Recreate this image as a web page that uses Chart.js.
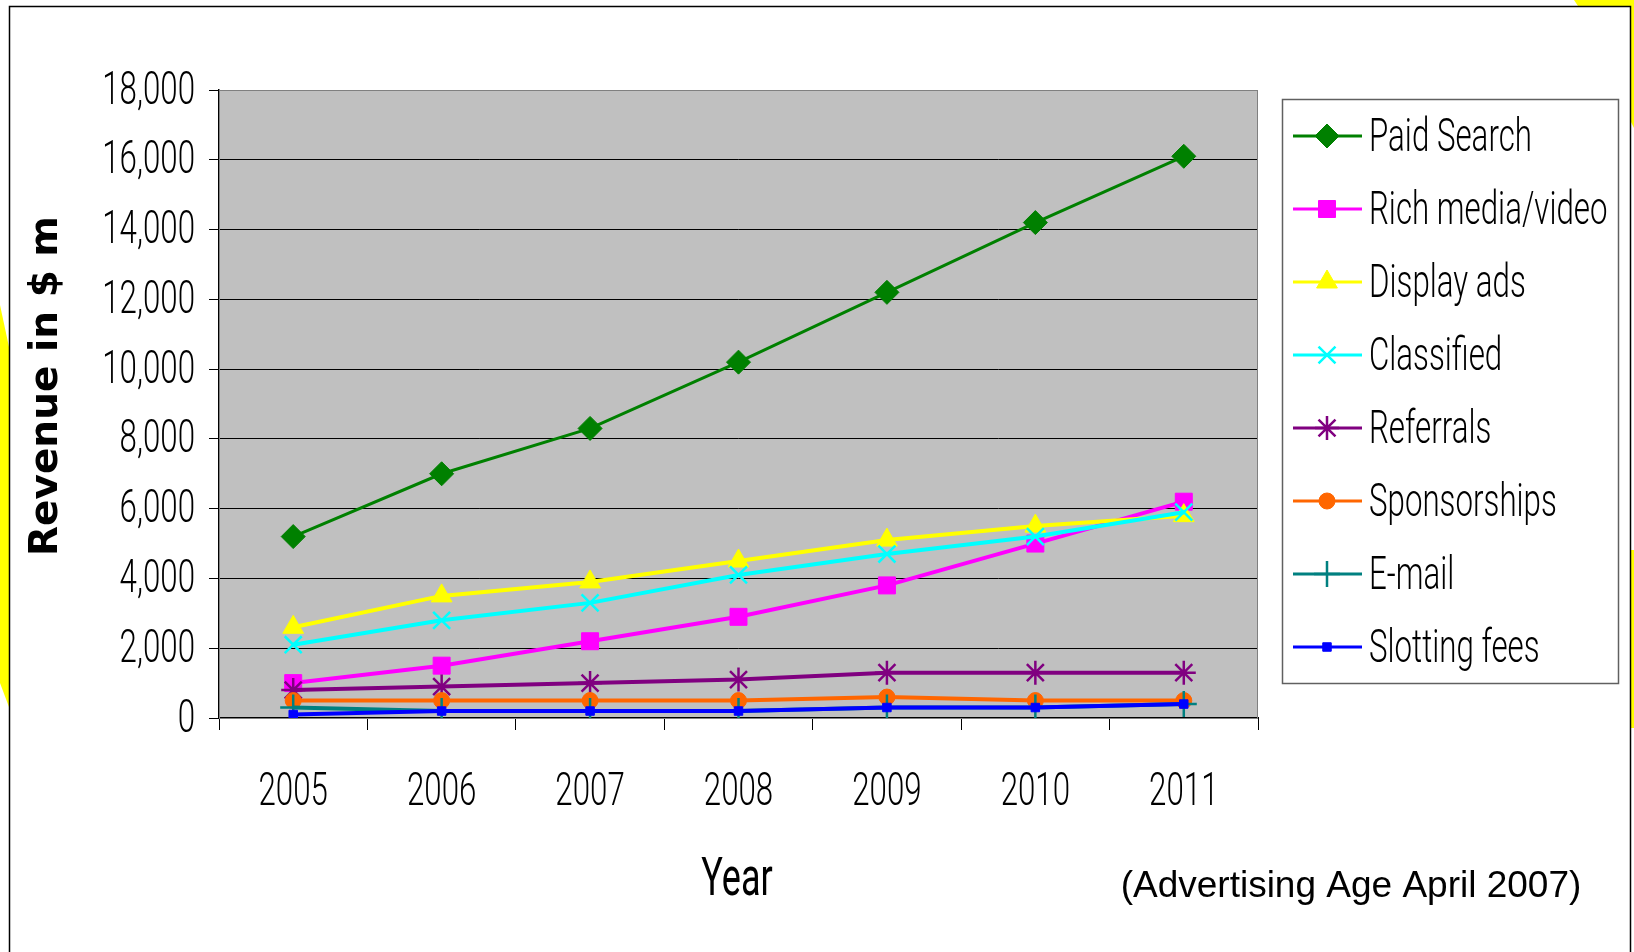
<!DOCTYPE html>
<html>
<head>
<meta charset="utf-8">
<title>Online ad revenue</title>
<script src="https://cdn.jsdelivr.net/npm/chart.js@4.4.1/dist/chart.umd.min.js"></script>
<style>
  html, body { margin: 0; padding: 0; background: #fff; }
  #wrap { width: 1634px; height: 952px; }
</style>
</head>
<body>
<div id="wrap"><canvas id="myChart" width="1634" height="952"></canvas></div>
<script>
// data ($ m)
const years = ['2005', '2006', '2007', '2008', '2009', '2010', '2011'];
const paidSearch   = [5200, 7000, 8300, 10200, 12200, 14200, 16100];
const richMedia    = [1000, 1500, 2200, 2900, 3800, 5000, 6200];
const displayAds   = [2600, 3500, 3900, 4500, 5100, 5500, 5800];
const classified   = [2100, 2800, 3300, 4100, 4700, 5200, 5900];
const referrals    = [800, 900, 1000, 1100, 1300, 1300, 1300];
const sponsorships = [500, 500, 500, 500, 600, 500, 500];
const email        = [300, 200, 200, 200, 300, 300, 400];
const slottingFees = [100, 200, 200, 200, 300, 300, 400];
const yMax = 18000;
const yStep = 2000;

// the original uses a tall condensed face; squeeze a light sans horizontally
const thinFont = '300 46px Roboto, "Liberation Sans", sans-serif';
const squeeze = 0.68;

// series: label, data, colour, marker, marker radius
const series = [
  ['Paid Search', paidSearch, '#008000', 'rectRot', 12],
  ['Rich media/video', richMedia, '#FF00FF', 'rect', 12],
  ['Display ads', displayAds, '#FFFF00', 'triangle', 12],
  ['Classified', classified, '#00FFFF', 'crossRot', 12],
  ['Referrals', referrals, '#800080', 'star', 12],
  ['Sponsorships', sponsorships, '#FF6600', 'circle', 8],
  ['E-mail', email, '#008080', 'cross', 13],
  ['Slotting fees', slottingFees, '#0000FF', 'rect', 6]
];

const datasets = series.map(function (s, i) {
  const open = (s[3] === 'cross' || s[3] === 'crossRot' || s[3] === 'star');
  return {
    label: s[0],
    data: s[1],
    borderColor: s[2],
    backgroundColor: s[2],
    borderWidth: i === 0 ? 3 : 4,
    pointStyle: s[3],
    pointRadius: s[4],
    pointBorderWidth: open ? 2.5 : 1,
    pointBackgroundColor: s[2],
    pointBorderColor: s[2],
    tension: 0,
    order: series.length - i   // later series drawn on top, like Excel
  };
});

function narrowText(ctx, text, x, y, align, font) {
  ctx.save();
  ctx.translate(x, y);
  ctx.scale(squeeze, 1);
  ctx.font = font || thinFont;
  ctx.textAlign = align;
  ctx.textBaseline = 'middle';
  ctx.fillText(text, 0, 0);
  ctx.restore();
}

// grey plot background, frame, titles, yellow bits and the boxed legend
const decor = {
  id: 'decor',
  beforeDraw(chart) {
    const ctx = chart.ctx, a = chart.chartArea;
    ctx.save();
    ctx.fillStyle = '#fff';
    ctx.fillRect(0, 0, chart.width, chart.height);
    // yellow shapes peeking in at the edges
    ctx.fillStyle = '#FFFF00';
    ctx.beginPath();
    ctx.moveTo(0, 305); ctx.lineTo(9, 347); ctx.lineTo(9, 707); ctx.lineTo(0, 683); ctx.closePath();
    ctx.fill();
    ctx.beginPath();
    ctx.moveTo(1574, 0); ctx.lineTo(1634, 0); ctx.lineTo(1634, 128); ctx.lineTo(1630, 120);
    ctx.lineTo(1630, 6); ctx.lineTo(1578, 6); ctx.closePath();
    ctx.fill();
    ctx.fillRect(1631, 550, 3, 178);
    // outer frame
    ctx.strokeStyle = '#000';
    ctx.lineWidth = 1.5;
    ctx.beginPath();
    ctx.moveTo(9.5, 960); ctx.lineTo(9.5, 6.5); ctx.lineTo(1630.5, 6.5); ctx.lineTo(1630.5, 960);
    ctx.stroke();
    // plot area
    ctx.fillStyle = '#C0C0C0';
    ctx.fillRect(a.left, a.top, a.right - a.left, a.bottom - a.top);
    ctx.restore();
  },
  afterDraw(chart) {
    const ctx = chart.ctx, a = chart.chartArea;
    const xs = chart.scales.x, ys = chart.scales.y;
    ctx.save();
    ctx.strokeStyle = '#808080';
    ctx.lineWidth = 1;
    ctx.strokeRect(a.left + 0.5, a.top + 0.5, a.right - a.left - 1, a.bottom - a.top);

    ctx.fillStyle = '#000';
    // tick labels, placed by the library's scales
    ys.ticks.forEach(function (t, i) {
      narrowText(ctx, t.label, a.left - 24, ys.getPixelForTick(i) + 2, 'right');
    });
    xs.ticks.forEach(function (t, i) {
      narrowText(ctx, t.label, xs.getPixelForTick(i), 793, 'center');
    });

    // y title
    ctx.save();
    ctx.translate(47, 386);
    ctx.rotate(-Math.PI / 2);
    ctx.font = 'bold 39px "DejaVu Sans", Verdana, sans-serif';
    ctx.textAlign = 'center';
    ctx.textBaseline = 'middle';
    ctx.fillText('Revenue in $ m', 0, 0);
    ctx.restore();
    // x title
    narrowText(ctx, 'Year', 737, 882, 'center', '400 53px Roboto, "Liberation Sans", sans-serif');
    // source note
    ctx.font = '37px "Liberation Sans", Arial, sans-serif';
    ctx.textAlign = 'center';
    ctx.textBaseline = 'middle';
    ctx.fillText('(Advertising Age April 2007)', 1351, 887);

    // legend box
    ctx.strokeStyle = '#606060';
    ctx.lineWidth = 1.5;
    ctx.strokeRect(1282.5, 99.5, 336, 584);
    chart.data.datasets.forEach(function (ds, i) {
      const y = 136 + i * 73;
      ctx.strokeStyle = ds.borderColor;
      ctx.lineWidth = 3;
      ctx.beginPath();
      ctx.moveTo(1293, y); ctx.lineTo(1362, y);
      ctx.stroke();
      ctx.fillStyle = ds.pointBackgroundColor;
      ctx.strokeStyle = ds.pointBorderColor;
      ctx.lineWidth = ds.pointBorderWidth;
      Chart.helpers.drawPoint(ctx, {
        pointStyle: ds.pointStyle, radius: ds.pointRadius, rotation: 0, borderWidth: ds.pointBorderWidth
      }, 1327, y);
      ctx.fillStyle = '#000';
      narrowText(ctx, ds.label, 1369, y + 3, 'left');
    });
    ctx.restore();
  }
};

const ctx = document.getElementById('myChart').getContext('2d');
const chart = new Chart(ctx, {
  type: 'line',
  data: { labels: years, datasets: datasets },
  options: {
    responsive: false,
    animation: false,
    layout: { padding: { left: 20, right: 376, top: 90, bottom: 134 } },
    plugins: { legend: { display: false }, tooltip: { enabled: false } },
    scales: {
      x: {
        type: 'category',
        offset: true,
        grid: { offset: true, drawOnChartArea: false, tickLength: 12, color: '#000', lineWidth: 1 },
        border: { color: '#000', width: 2 },
        ticks: { color: 'rgba(0,0,0,0)', padding: 38, font: { size: 37 } },
        afterFit(scale) { scale.height = 100; }
      },
      y: {
        min: 0,
        max: yMax,
        grid: { color: '#000', lineWidth: 1, tickLength: 10 },
        border: { color: '#000', width: 1.5 },
        ticks: {
          stepSize: yStep,
          color: 'rgba(0,0,0,0)',
          padding: 14,
          font: { size: 38 },
          callback: function (v) { return v.toLocaleString('en-US'); }
        },
        afterFit(scale) { scale.width = 199; }
      }
    }
  },
  plugins: [decor]
});
</script>
</body>
</html>
